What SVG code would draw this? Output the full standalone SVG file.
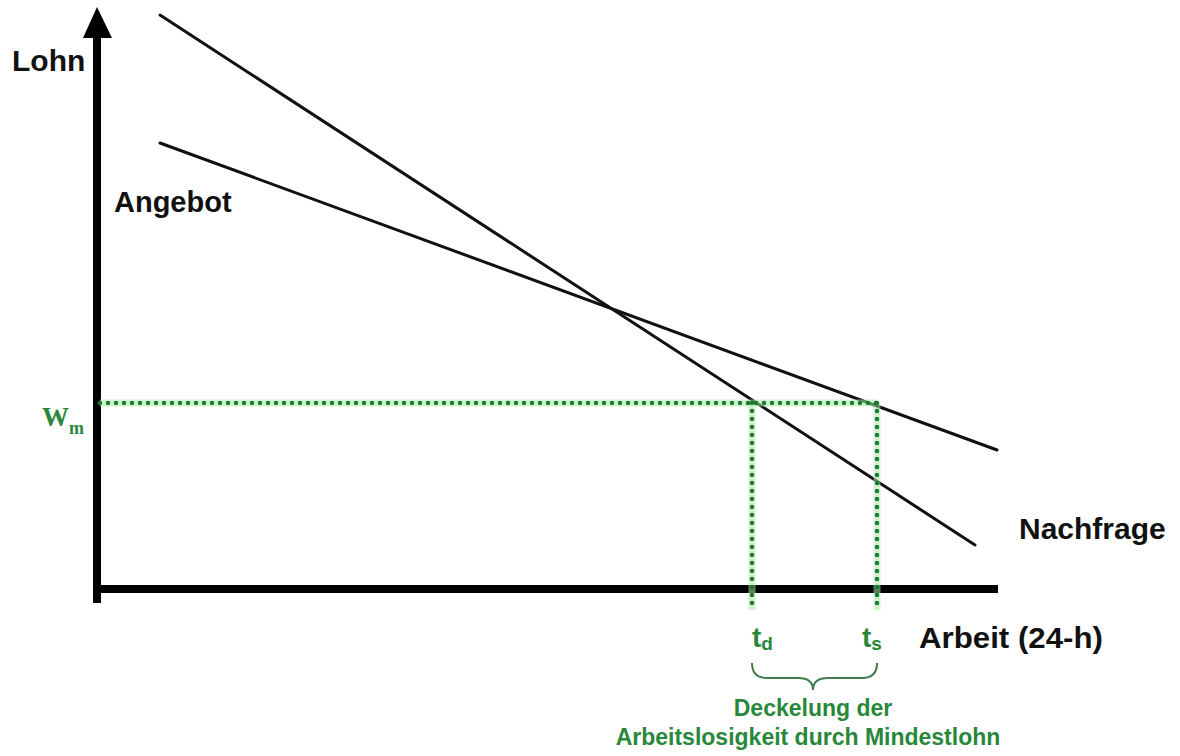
<svg xmlns="http://www.w3.org/2000/svg" width="1180" height="756" viewBox="0 0 1180 756">
<style>
.lbl{font-family:"Liberation Sans",Arial,sans-serif;font-weight:bold;fill:#111}
.g{font-family:"Liberation Sans",Arial,sans-serif;font-weight:bold;fill:#27873a}
.curve{stroke:#111;stroke-width:3;fill:none;stroke-linecap:round}
.axis{stroke:#000;stroke-width:8;fill:none}
.halo{stroke:#a8eaa8;stroke-width:7;fill:none;opacity:0.55}
.dots{stroke:#1d7a2c;stroke-width:4.5;fill:none;stroke-linecap:round;stroke-dasharray:0 8}
</style>
<rect width="1180" height="756" fill="#fff"/>
<g id="axes">
<line class="axis" x1="97" y1="603" x2="97" y2="34"/>
<polygon points="97,7 83,38 112,38" fill="#000"/>
<line class="axis" x1="93" y1="589" x2="998" y2="589"/>
</g>
<g id="connectors">
<line class="curve" x1="160" y1="15" x2="975" y2="545"/>
<line class="curve" x1="160" y1="143" x2="997" y2="450"/>
<g id="minwage-lines">
<path class="halo" d="M100,403 H877 M752,403 V610 M877,403 V610"/>
<path class="dots" d="M100,403 H877"/>
<path class="dots" d="M752,403 V610"/>
<path class="dots" d="M877,403 V610"/>
</g>
<path id="brace" d="M752,663 Q752,678 767,678 L798,678 Q813,678 813,690 Q813,678 828,678 L862,678 Q877,678 877,663" fill="none" stroke="#3f7d4c" stroke-width="2"/>
</g>
<g id="lohn"><text class="lbl" x="12" y="71" font-size="30">Lohn</text></g>
<g id="angebot"><text class="lbl" x="114" y="212" font-size="29">Angebot</text></g>
<g id="nachfrage"><text class="lbl" x="1019" y="539" font-size="30">Nachfrage</text></g>
<g id="arbeit"><text class="lbl" x="919" y="648" font-size="30" textLength="184" lengthAdjust="spacingAndGlyphs">Arbeit (24-h)</text></g>
<g id="wm"><text x="42" y="426" font-family="'Liberation Serif','Times New Roman',serif" font-weight="bold" font-size="27" fill="#27873a">W<tspan font-size="18" dy="8">m</tspan></text></g>
<g id="td"><text class="g" x="752" y="647" font-size="28">t<tspan font-size="19" dy="3">d</tspan></text></g>
<g id="ts"><text class="g" x="862" y="647" font-size="28">t<tspan font-size="19" dy="3">s</tspan></text></g>
<g id="note">
<text class="g" x="813" y="716" font-size="23" text-anchor="middle">Deckelung der</text>
<text class="g" x="808" y="745" font-size="23" text-anchor="middle">Arbeitslosigkeit durch Mindestlohn</text>
</g>
</svg>
